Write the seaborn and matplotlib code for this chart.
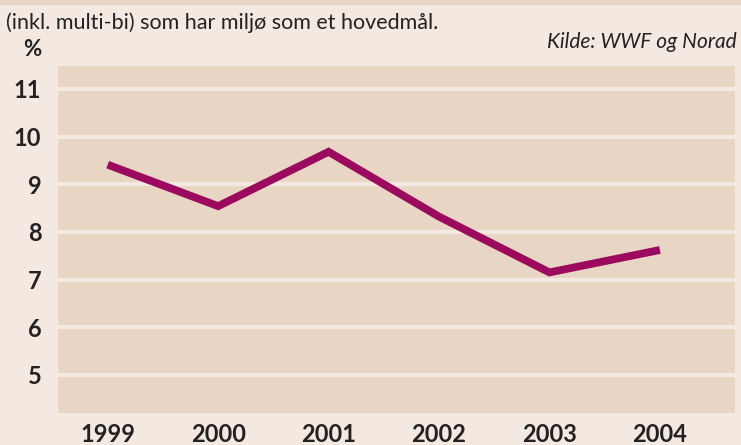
import matplotlib
matplotlib.use("Agg")
import matplotlib.pyplot as plt
import seaborn as sns
import pandas as pd

years = [1999, 2000, 2001, 2002, 2003, 2004]
share = [9.41, 8.54, 9.68, 8.32, 7.15, 7.62]
yticks = [5, 6, 7, 8, 9, 10, 11]

bg = "#f4e9e1"
panel = "#e8d5c4"
line_col = "#9b0a5e"

sns.set_theme(style="white")
plt.rcParams["font.family"] = ["Lato", "DejaVu Sans"]

df = pd.DataFrame({"year": years, "share": share})

fig = plt.figure(figsize=(7.41, 4.45), dpi=100, facecolor=bg)
ax = fig.add_axes([58 / 741, 1 - 413 / 445, 677 / 741, 347 / 445])
ax.set_facecolor(panel)

sns.lineplot(data=df, x="year", y="share", ax=ax, color=line_col,
             linewidth=5.6, solid_capstyle="butt", solid_joinstyle="miter")

ax.set_xlim(1998.55, 2004.68)
ax.set_ylim(4.2, 11.48)
ax.set_yticks(yticks)
ax.set_xticks(years)
ax.set_yticklabels([str(v) for v in yticks], fontsize=17, fontweight="bold", color="#222222")
ax.set_xticklabels([str(v) for v in years], fontsize=17, fontweight="bold", color="#222222")
ax.tick_params(axis="both", length=0)
ax.tick_params(axis="y", pad=12)
ax.tick_params(axis="x", pad=7)
ax.set_xlabel("")
ax.set_ylabel("")
for s in ax.spines.values():
    s.set_visible(False)
for v in yticks:
    ax.axhline(v, color=bg, linewidth=3, zorder=1)
ax.lines[0].set_zorder(3)

# top strip
fig.patches.append(plt.Rectangle((0, 1 - 5 / 445), 1, 5 / 445, transform=fig.transFigure,
                                 facecolor=panel, edgecolor="none"))

fig.text(6 / 741, 1 - 23 / 445, "(inkl. multi-bi) som har miljø som et hovedmål.",
         fontsize=15.5, color="#222222", va="center", ha="left")
fig.text(737 / 741, 1 - 42 / 445, "Kilde: WWF og Norad", fontsize=15,
         style="italic", color="#222222", va="center", ha="right")
fig.text(32 / 741, 1 - 50 / 445, "%", fontsize=16, fontweight="bold",
         color="#222222", va="center", ha="center")

fig.savefig("out.png", dpi=100, facecolor=bg)
